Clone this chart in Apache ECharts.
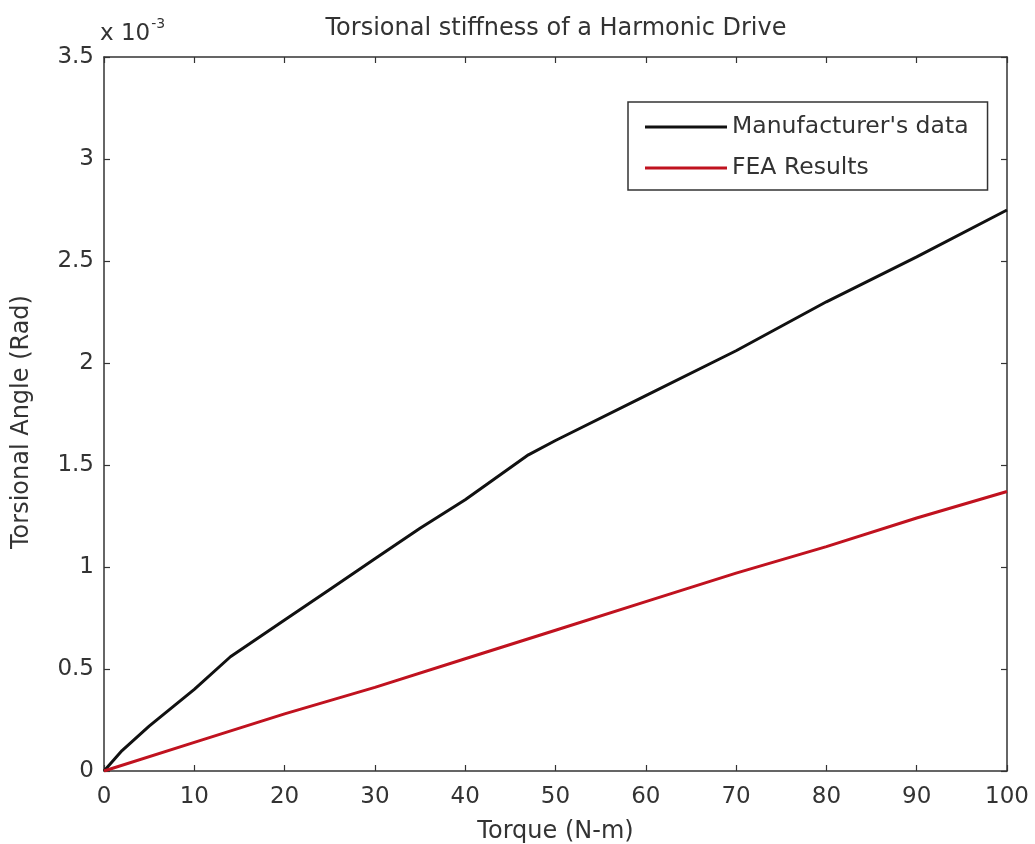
<!DOCTYPE html>
<html>
<head>
<meta charset="utf-8">
<script src="https://cdn.jsdelivr.net/npm/echarts@6/dist/echarts.min.js"></script>
<style>
  html, body { margin: 0; padding: 0; background: #fff; }
  #chart { width: 1035px; height: 844px; }
</style>
</head>
<body>
<div id="chart"></div>
<script>
// Torque (N-m) sample points
const torque = [0, 1, 2, 5, 10, 14, 20, 25, 30, 35, 40, 47, 50, 60, 70, 80, 90, 100];
// Torsional angle, units of 1e-3 rad
const manufacturer = [0, 0.05, 0.10, 0.22, 0.40, 0.56, 0.74, 0.89, 1.04, 1.19, 1.33, 1.55, 1.62, 1.84, 2.06, 2.30, 2.52, 2.75];
const feaTorque = [0, 10, 20, 30, 40, 50, 60, 70, 80, 90, 100];
const feaResults = [0, 0.14, 0.28, 0.41, 0.55, 0.69, 0.83, 0.97, 1.10, 1.24, 1.37];
const xTicks = [0, 10, 20, 30, 40, 50, 60, 70, 80, 90, 100];
const yTicks = ['0', '0.5', '1', '1.5', '2', '2.5', '3', '3.5'];

const font = 'DejaVu Sans, sans-serif';
const ink = '#333';
const fsName = 24;
const fsTick = 23;

const chart = echarts.init(document.getElementById('chart'));

// shared look of the four sides of the plot box
const frameAxis = {
  axisLine: { show: true, onZero: false, lineStyle: { color: ink, width: 1.5 } },
  axisTick: { show: true, inside: true, length: 6, lineStyle: { color: ink, width: 1.2 } },
  splitLine: { show: false }
};

chart.setOption({
  animation: false,
  backgroundColor: '#fff',
  title: {
    text: 'Torsional stiffness of a Harmonic Drive',
    left: 551, top: 12, textAlign: 'center',
    textStyle: { fontFamily: font, fontSize: fsName, fontWeight: 'normal', color: ink }
  },
  grid: { left: 104, right: 28, top: 57, bottom: 73, outerBoundsMode: 'none', containLabel: false },
  legend: {
    orient: 'vertical',
    left: 628, top: 102,
    padding: [13, 19, 10, 17],
    itemWidth: 82, itemHeight: 3, itemGap: 17,
    borderColor: ink, borderWidth: 1.5,
    backgroundColor: '#fff',
    icon: 'rect',
    textStyle: { fontFamily: font, fontSize: 23.5, color: ink },
    data: ["Manufacturer's data", 'FEA Results']
  },
  xAxis: [
    Object.assign({}, frameAxis, {
      type: 'value', min: 0, max: 100, interval: 10,
      name: 'Torque (N-m)', nameLocation: 'middle', nameGap: 49,
      nameTextStyle: { fontFamily: font, fontSize: fsName, color: ink },
      axisLabel: {
        fontFamily: font, fontSize: fsTick, color: ink, margin: 15,
        formatter: v => xTicks.includes(v) ? String(v) : ''
      }
    }),
    Object.assign({}, frameAxis, {
      type: 'value', min: 0, max: 100, interval: 10, position: 'top',
      axisLabel: { show: false }
    })
  ],
  yAxis: [
    Object.assign({}, frameAxis, {
      type: 'value', min: 0, max: 3.5, interval: 0.5,
      name: 'Torsional Angle (Rad)', nameLocation: 'middle', nameGap: 70,
      nameTextStyle: { fontFamily: font, fontSize: fsName, color: ink, padding: [0, 16, 0, 0] },
      axisLabel: {
        fontFamily: font, fontSize: fsTick, color: ink, margin: 10,
        formatter: v => yTicks[Math.round(v / 0.5)]
      }
    }),
    Object.assign({}, frameAxis, {
      type: 'value', min: 0, max: 3.5, interval: 0.5, position: 'right',
      axisLabel: { show: false }
    })
  ],
  graphic: [{
    type: 'text', left: 100, top: 17,
    style: {
      text: '{b|x 10}{s|-3}',
      rich: {
        b: { fontFamily: font, fontSize: 23, fill: ink, verticalAlign: 'bottom' },
        s: { fontFamily: font, fontSize: 14, fill: ink, verticalAlign: 'top', padding: [0, 0, 15, 1] }
      }
    }
  }],
  series: [
    {
      name: "Manufacturer's data", type: 'line', showSymbol: false,
      data: torque.map((t, i) => [t, manufacturer[i]]),
      lineStyle: { color: '#111', width: 3 }, itemStyle: { color: '#111' }
    },
    {
      name: 'FEA Results', type: 'line', showSymbol: false,
      data: feaTorque.map((t, i) => [t, feaResults[i]]),
      lineStyle: { color: '#c0121f', width: 3 }, itemStyle: { color: '#c0121f' }
    }
  ]
});
</script>
</body>
</html>
